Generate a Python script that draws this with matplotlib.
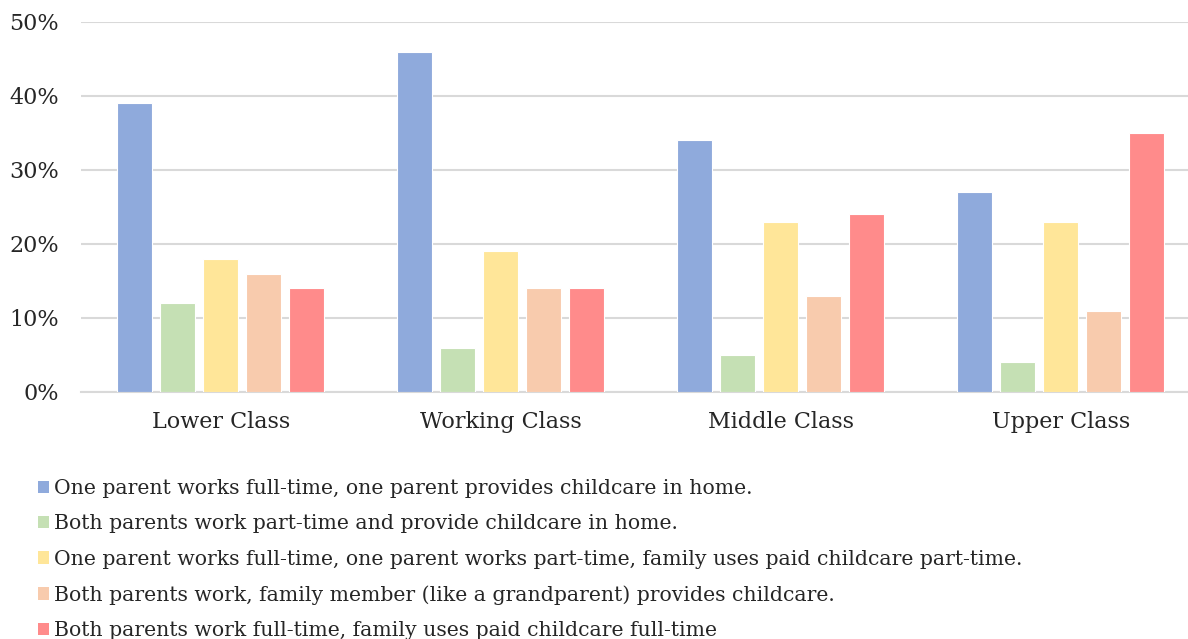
import numpy as np
import matplotlib.pyplot as plt
from matplotlib.patches import Patch

categories = ['Lower Class', 'Working Class', 'Middle Class', 'Upper Class']
series_labels = [
    'One parent works full-time, one parent provides childcare in home.',
    'Both parents work part-time and provide childcare in home.',
    'One parent works full-time, one parent works part-time, family uses paid childcare part-time.',
    'Both parents work, family member (like a grandparent) provides childcare.',
    'Both parents work full-time, family uses paid childcare full-time',
]
one_full_one_home = [39, 46, 34, 27]
both_part_home = [12, 6, 5, 4]
one_full_one_part_paid = [18, 19, 23, 23]
family_member = [16, 14, 13, 11]
both_full_paid = [14, 14, 24, 35]
colors = ['#8FAADC', '#C5E0B4', '#FFE699', '#F8CBAD', '#FF8B8B']

series = [one_full_one_home, both_part_home, one_full_one_part_paid, family_member, both_full_paid]

plt.rcParams['font.family'] = ['DejaVu Serif']
fig = plt.figure(figsize=(11.88, 6.39), dpi=100)
W, H = 1188, 639
ax = fig.add_axes([81 / W, 1 - 392 / H, (W - 81) / W, (392 - 22) / H])

x = np.arange(len(categories))
step = 43 / 280
width = 35 / 280
for i, vals in enumerate(series):
    ax.bar(x + (i - 2) * step, vals, width, color=colors[i], edgecolor='white', linewidth=0.8, zorder=3)

ax.set_xlim(-0.5, -0.5 + (W - 81) / 280)
ax.set_ylim(0, 50)
ax.set_yticks(range(0, 51, 10))
ax.set_yticklabels([f'{v}%' for v in range(0, 51, 10)])
ax.yaxis.grid(True, color='#D9D9D9', linewidth=1.5, zorder=0)
ax.set_xticks(x)
ax.set_xticklabels(categories)
ax.tick_params(axis='both', length=0, labelsize=16, colors='#262626')
ax.tick_params(axis='x', pad=14)
ax.tick_params(axis='y', pad=16)
for s in ['top', 'right', 'left']:
    ax.spines[s].set_visible(False)
ax.spines['bottom'].set_color('#D9D9D9')
ax.spines['bottom'].set_linewidth(1.5)

handles = [Patch(facecolor=c, edgecolor='none') for c in colors]
fig.legend(handles, series_labels, loc='upper left', bbox_to_anchor=(38 / W, 1 - 479 / H),
           frameon=False, fontsize=14.7, handlelength=0.55, handleheight=0.55, handletextpad=0.22,
           labelspacing=0.8, borderaxespad=0, borderpad=0, labelcolor='#262626')

fig.savefig('out.png', dpi=100)
